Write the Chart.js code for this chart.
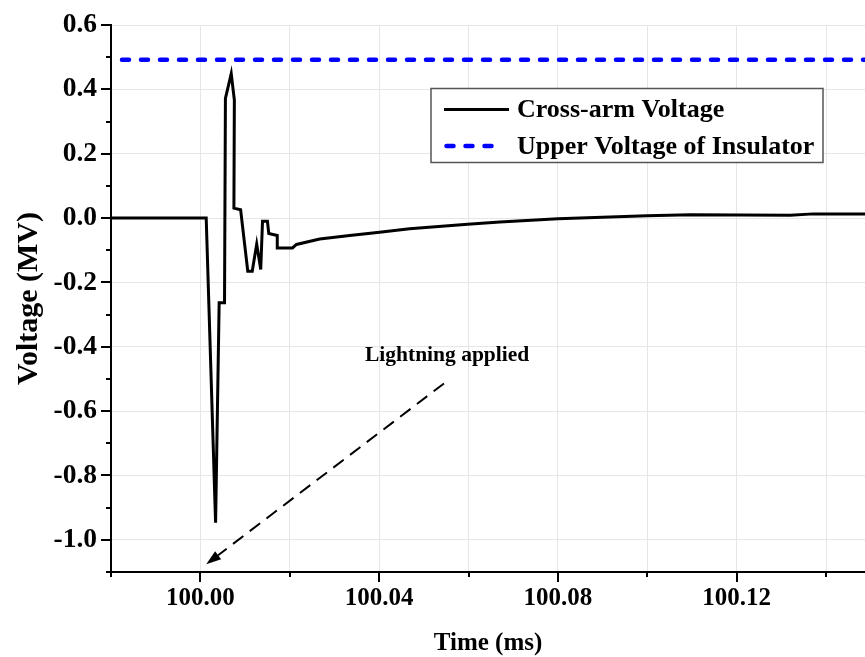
<!DOCTYPE html>
<html>
<head>
<meta charset="utf-8">
<title>Cross-arm Voltage</title>
<script src="https://cdn.jsdelivr.net/npm/chart.js@4.4.0/dist/chart.umd.min.js"></script>
<style>
  html, body { margin: 0; padding: 0; background: #fff; }
</style>
</head>
<body>
<canvas id="myChart" width="865" height="657"></canvas>
<script>
// cross-arm voltage
const timeMs = [99.98, 100.0013, 100.0034, 100.0042, 100.0054, 100.0056, 100.0069, 100.0076, 100.0075,
  100.0090, 100.0106, 100.0116, 100.0126, 100.0135, 100.0139, 100.0150, 100.0153, 100.0172, 100.0172,
  100.0206, 100.0215, 100.0267, 100.0334, 100.0401, 100.0468, 100.0598, 100.0670, 100.0800, 100.0999,
  100.1096, 100.1320, 100.1371, 100.1487];
const crossArmMV = [0, 0, -0.947, -0.263, -0.263, 0.372, 0.449, 0.367, 0.031,
  0.026, -0.165, -0.165, -0.081, -0.160, -0.010, -0.010, -0.048, -0.054, -0.093,
  -0.093, -0.082, -0.065, -0.054, -0.044, -0.033, -0.019, -0.012, -0.002, 0.007,
  0.010, 0.009, 0.013, 0.013];

// insulator upper voltage
const limitTime = [99.98, 100.1487];
const limitMV = [0.492, 0.492];

const xMin = 99.98, xMax = 100.1487, xStep = 0.02;
const yMin = -1.1, yMax = 0.6, yStep = 0.1;

// annotation
const noteText = "Lightning applied";
const notePos = { x: 100.0552, y: -0.428 };
const arrowFrom = { x: 100.0545, y: -0.514 };
const arrowTo = { x: 100.0013, y: -1.076 };

const FONT = "'Liberation Serif', 'Times New Roman', serif";

const isMajorX = (v) => {
  const k = Math.round((v - 100) * 100);
  return k >= 0 && k % 4 === 0;
};
const isMajorY = (v) => Math.round(v * 10) % 2 === 0;

// tick marks: long on labelled ticks, short in between
const tickMarks = {
  id: "tickMarks",
  afterDraw(chart) {
    const { ctx, chartArea, scales } = chart;
    ctx.save();
    ctx.strokeStyle = "#000";
    ctx.lineWidth = 2;
    ctx.beginPath();
    scales.x.ticks.forEach((t) => {
      const px = Math.round(scales.x.getPixelForValue(t.value));
      const len = isMajorX(t.value) ? 10 : 5;
      ctx.moveTo(px, chartArea.bottom);
      ctx.lineTo(px, chartArea.bottom + len);
    });
    scales.y.ticks.forEach((t) => {
      const py = Math.round(scales.y.getPixelForValue(t.value));
      const len = isMajorY(t.value) ? 10 : 5;
      ctx.moveTo(chartArea.left, py);
      ctx.lineTo(chartArea.left - len, py);
    });
    ctx.stroke();
    ctx.restore();
  },
};

// boxed legend inside the plot
const boxLegend = {
  id: "boxLegend",
  afterDatasetsDraw(chart) {
    const { ctx, chartArea } = chart;
    const left = chartArea.left + 320, top = 88.5, w = 392, h = 74;
    ctx.save();
    ctx.fillStyle = "#fff";
    ctx.fillRect(left, top, w, h);
    ctx.strokeStyle = "#555";
    ctx.lineWidth = 1.5;
    ctx.strokeRect(left, top, w, h);
    chart.data.datasets.forEach((ds, i) => {
      const y = top + 21 + i * 36.5;
      ctx.beginPath();
      ctx.strokeStyle = ds.borderColor;
      ctx.lineWidth = ds.borderWidth;
      ctx.lineCap = ds.borderCapStyle || "butt";
      ctx.setLineDash(ds.borderDash || []);
      ctx.lineDashOffset = ds.borderDash ? -2.5 : 0;
      ctx.moveTo(left + 13, y);
      ctx.lineTo(left + (ds.borderDash ? 62 : 78), y);
      ctx.stroke();
      ctx.setLineDash([]);
      ctx.fillStyle = "#000";
      ctx.font = "bold 26px " + FONT;
      ctx.textBaseline = "middle";
      ctx.fillText(ds.label, left + 86, y + 1);
    });
    ctx.restore();
  },
};

// dashed arrow with its caption
const lightningNote = {
  id: "lightningNote",
  afterDatasetsDraw(chart) {
    const { ctx, scales: { x, y } } = chart;
    const x0 = x.getPixelForValue(arrowFrom.x), y0 = y.getPixelForValue(arrowFrom.y);
    const x1 = x.getPixelForValue(arrowTo.x), y1 = y.getPixelForValue(arrowTo.y);
    const ang = Math.atan2(y1 - y0, x1 - x0);
    const headLen = 15, headW = 5;
    const bx = x1 - headLen * Math.cos(ang), by = y1 - headLen * Math.sin(ang);
    ctx.save();
    ctx.strokeStyle = "#000";
    ctx.lineWidth = 2;
    ctx.setLineDash([13, 8]);
    ctx.beginPath();
    ctx.moveTo(x0, y0);
    ctx.lineTo(bx, by);
    ctx.stroke();
    ctx.setLineDash([]);
    ctx.fillStyle = "#000";
    ctx.beginPath();
    ctx.moveTo(x1, y1);
    ctx.lineTo(bx + headW * Math.sin(ang), by - headW * Math.cos(ang));
    ctx.lineTo(bx - headW * Math.sin(ang), by + headW * Math.cos(ang));
    ctx.closePath();
    ctx.fill();
    ctx.font = "bold 21.5px " + FONT;
    ctx.textAlign = "center";
    ctx.textBaseline = "middle";
    ctx.fillText(noteText, x.getPixelForValue(notePos.x), y.getPixelForValue(notePos.y));
    ctx.restore();
  },
};

const ctx = document.getElementById("myChart").getContext("2d");
const myChart = new Chart(ctx, {
  type: "line",
  data: {
    datasets: [
      {
        label: "Cross-arm Voltage",
        data: timeMs.map((t, i) => ({ x: t, y: crossArmMV[i] })),
        borderColor: "#000000",
        borderWidth: 3,
        pointRadius: 0,
        tension: 0,
        fill: false,
      },
      {
        label: "Upper Voltage of Insulator",
        data: limitTime.map((t, i) => ({ x: t, y: limitMV[i] })),
        borderColor: "#0000ff",
        borderWidth: 4.5,
        borderDash: [7, 12],
        borderDashOffset: 8,
        borderCapStyle: "round",
        pointRadius: 0,
        fill: false,
      },
    ],
  },
  options: {
    responsive: false,
    animation: false,
    devicePixelRatio: 1,
    layout: { padding: { top: 23, left: 0, right: 0, bottom: 0 } },
    plugins: {
      legend: { display: false },
      tooltip: { enabled: false },
    },
    scales: {
      x: {
        type: "linear",
        min: xMin,
        max: xMax,
        afterFit: (scale) => { scale.height = 85; },
        ticks: {
          stepSize: xStep,
          includeBounds: false,
          autoSkip: false,
          maxRotation: 0,
          padding: 12,
          color: "#000",
          font: { family: FONT, size: 25, weight: "bold" },
          callback: (v) => (isMajorX(v) ? v.toFixed(2) : ""),
        },
        grid: { color: "#e6e6e6", lineWidth: 1, drawTicks: false },
        border: { display: true, color: "#000", width: 2 },
        title: {
          display: true,
          text: "Time (ms)",
          color: "#000",
          font: { family: FONT, size: 25, weight: "bold" },
          padding: { top: 0, bottom: -2 },
        },
      },
      y: {
        type: "linear",
        min: yMin,
        max: yMax,
        afterFit: (scale) => { scale.width = 111; },
        ticks: {
          stepSize: yStep,
          autoSkip: false,
          padding: 14,
          color: "#000",
          font: { family: FONT, size: 27.5, weight: "bold", lineHeight: 0.8 },
          callback: (v) => (isMajorY(v) ? v.toFixed(1) : ""),
        },
        grid: {
          color: (c) => (c.tick && isMajorY(c.tick.value) ? "#e6e6e6" : "rgba(0,0,0,0)"),
          lineWidth: 1,
          drawTicks: false,
        },
        border: { display: true, color: "#000", width: 2 },
        title: {
          display: true,
          text: "Voltage (MV)",
          color: "#000",
          font: { family: FONT, size: 30, weight: "bold" },
          padding: { top: 11, bottom: 0 },
        },
      },
    },
  },
  plugins: [tickMarks, boxLegend, lightningNote],
});
</script>
</body>
</html>
